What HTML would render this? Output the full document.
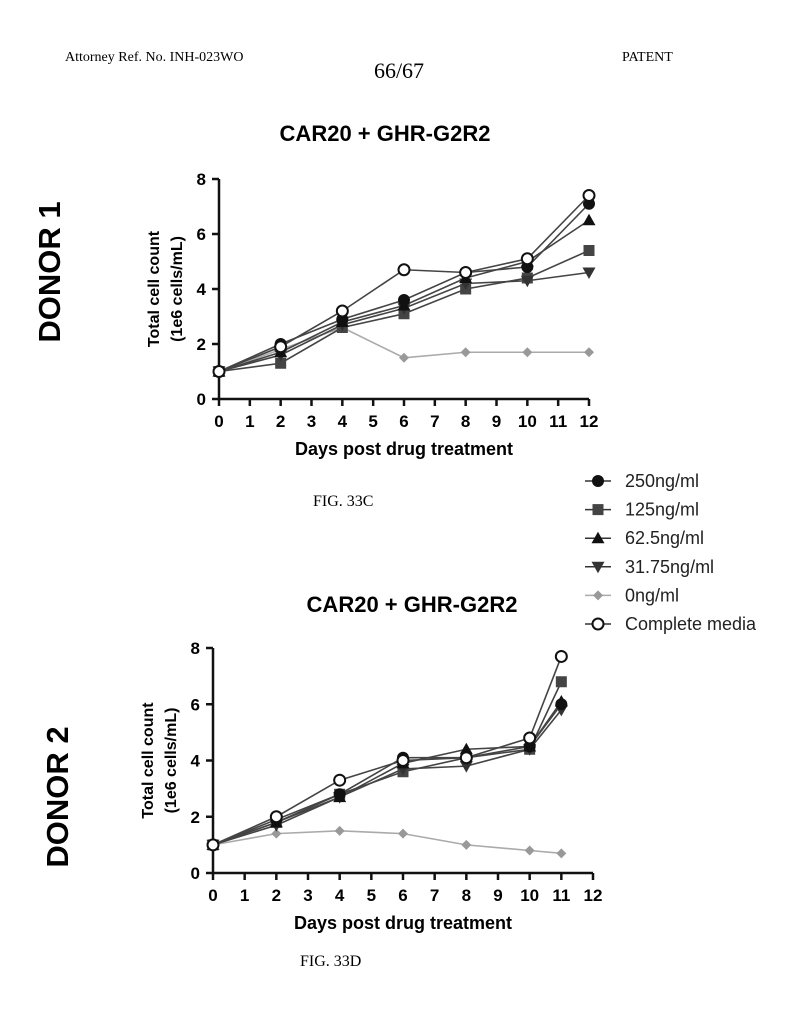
<!DOCTYPE html>
<html><head><meta charset="utf-8"><style>
html,body{margin:0;padding:0;background:#fff;}
svg{display:block;}
.ser{font-family:"Liberation Serif",serif;}
.san{font-family:"Liberation Sans",sans-serif;}
</style></head><body>
<svg id="page" width="790" height="1024" viewBox="0 0 790 1024" xmlns="http://www.w3.org/2000/svg">
<rect width="790" height="1024" fill="#fff"/>
<text class="ser" x="65" y="61" font-size="14">Attorney Ref. No. INH-023WO</text>
<text class="ser" x="399" y="78" font-size="22" text-anchor="middle">66/67</text>
<text class="ser" x="622" y="61" font-size="14">PATENT</text>
<text class="san" x="385" y="141" font-size="22" font-weight="bold" text-anchor="middle">CAR20 + GHR-G2R2</text>
<text class="san" x="412" y="612" font-size="22" font-weight="bold" text-anchor="middle">CAR20 + GHR-G2R2</text>
<text class="san" transform="translate(60,272) rotate(-90)" font-size="31" font-weight="bold" text-anchor="middle">DONOR 1</text>
<text class="san" transform="translate(68,797) rotate(-90)" font-size="31" font-weight="bold" text-anchor="middle">DONOR 2</text>
<text class="ser" x="313" y="506" font-size="16">FIG. 33C</text>
<text class="ser" x="300" y="966" font-size="16">FIG. 33D</text>
<g id="c1"></g>
<g id="c2"></g>
<g id="legend"></g>
</svg>
<script>
const seriesNames = ["250ng/ml","125ng/ml","62.5ng/ml","31.75ng/ml","0ng/ml","Complete media"];
const d1Days = [0,2,4,6,8,10,12];
const d1_250 = [1,2.0,2.9,3.6,4.6,4.8,7.1];
const d1_125 = [1,1.3,2.6,3.1,4.0,4.4,5.4];
const d1_62 = [1,1.7,2.8,3.4,4.4,5.0,6.5];
const d1_31 = [1,1.6,2.7,3.3,4.2,4.3,4.6];
const d1_0 = [1,1.8,2.6,1.5,1.7,1.7,1.7];
const d1_cm = [1,1.9,3.2,4.7,4.6,5.1,7.4];
const d2Days = [0,2,4,6,8,10,11];
const d2_250 = [1,1.9,2.8,4.1,4.1,4.5,6.0];
const d2_125 = [1,1.8,2.8,3.6,4.1,4.4,6.8];
const d2_62 = [1,1.8,2.7,3.9,4.4,4.5,6.1];
const d2_31 = [1,1.7,2.7,3.7,3.8,4.4,5.8];
const d2_0 = [1,1.4,1.5,1.4,1.0,0.8,0.7];
const d2_cm = [1,2.0,3.3,4.0,4.1,4.8,7.7];
const xTicks = [0,1,2,3,4,5,6,7,8,9,10,11,12];
const yTicks = [0,2,4,6,8];
const NS="http://www.w3.org/2000/svg";
const styles=[{m:"circle",c:"#111"},{m:"square",c:"#444"},{m:"tri",c:"#111"},{m:"tridown",c:"#333"},{m:"diamond",c:"#999"},{m:"open",c:"#111"}];
function mk(tag,attrs,parent){const e=document.createElementNS(NS,tag);for(const k in attrs)e.setAttribute(k,attrs[k]);parent.appendChild(e);return e;}
function marker(g,type,x,y,c){
  let e;
  if(type==="circle") e=mk("circle",{cx:x,cy:y,r:6,fill:c},g);
  else if(type==="open") e=mk("circle",{cx:x,cy:y,r:5.5,fill:"#fff",stroke:c,"stroke-width":2},g);
  else if(type==="square") e=mk("rect",{x:x-5.5,y:y-5.5,width:11,height:11,fill:c},g);
  else if(type==="tri") e=mk("polygon",{points:`${x},${y-6.5} ${x-6.5},${y+5} ${x+6.5},${y+5}`,fill:c},g);
  else if(type==="tridown") e=mk("polygon",{points:`${x},${y+6.5} ${x-6.5},${y-5} ${x+6.5},${y-5}`,fill:c},g);
  else e=mk("polygon",{points:`${x},${y-5} ${x+5},${y} ${x},${y+5} ${x-5},${y}`,fill:c},g);
  return e;
}
function chart(id,x0,x1,y0,y1,days,data){
  const g=document.getElementById(id);
  const sx=v=>x0+(x1-x0)*v/12, sy=v=>y0-(y0-y1)*v/8;
  const ax=mk("path",{d:`M${x0},${y1} V${y0} H${x1}`,stroke:"#111","stroke-width":2.5,fill:"none"},g);
  
  
  xTicks.forEach(t=>{
    mk("line",{x1:sx(t),x2:sx(t),y1:y0,y2:y0+7,stroke:"#111","stroke-width":2.5},g);
    const tx=mk("text",{x:sx(t),y:y0+28,"font-size":17,"font-weight":"bold","text-anchor":"middle","font-family":"Liberation Sans, sans-serif"},g);
    tx.textContent=t;
    
    
  });
  yTicks.forEach(t=>{
    mk("line",{x1:x0-7,x2:x0,y1:sy(t),y2:sy(t),stroke:"#111","stroke-width":2.5},g);
    const tx=mk("text",{x:x0-13,y:sy(t)+6,"font-size":17,"font-weight":"bold","text-anchor":"end","font-family":"Liberation Sans, sans-serif"},g);
    tx.textContent=t;
    
    
  });
  const xl=mk("text",{x:(x0+x1)/2,y:y0+56,"font-size":18,"font-weight":"bold","text-anchor":"middle","font-family":"Liberation Sans, sans-serif"},g);
  xl.textContent="Days post drug treatment";
  
  
  const yl=mk("text",{transform:`translate(${x0-60},${(y0+y1)/2}) rotate(-90)`,"font-size":16,"font-weight":"bold","text-anchor":"middle","font-family":"Liberation Sans, sans-serif"},g);
  yl.textContent="Total cell count";
  
  
  const yl2=mk("text",{transform:`translate(${x0-37},${(y0+y1)/2}) rotate(-90)`,"font-size":16,"font-weight":"bold","text-anchor":"middle","font-family":"Liberation Sans, sans-serif"},g);
  yl2.textContent="(1e6 cells/mL)";
  
  
  const order=[4,1,3,2,0,5];
  order.forEach(i=>{
    const vals=data[i], st=styles[i];
    const sg=mk("g",{},g);
    
    
    const pts=vals.map((v,k)=>sx(days[k])+","+sy(v)).join(" ");
    mk("polyline",{points:pts,fill:"none",stroke:i===4?"#aaa":"#444","stroke-width":1.6},sg);
    vals.forEach((v,k)=>{
      const m=marker(sg,st.m,sx(days[k]),sy(v),st.c);
      
      
    });
  });
}
chart("c1",219,589,399,179,d1Days,[d1_250,d1_125,d1_62,d1_31,d1_0,d1_cm]);
chart("c2",213,593,873,648,d2Days,[d2_250,d2_125,d2_62,d2_31,d2_0,d2_cm]);
const lg=document.getElementById("legend");
seriesNames.forEach((n,i)=>{
  const y=481+i*28.6, st=styles[i];
  const row=mk("g",{},lg);
  
  
  mk("line",{x1:585,x2:611,y1:y,y2:y,stroke:i===4?"#aaa":"#333","stroke-width":1.5},row);
  marker(row,st.m,598,y,st.c);
  const t=mk("text",{x:625,y:y+6,"font-size":18,"font-family":"Liberation Sans, sans-serif",fill:"#222"},row);
  t.textContent=n;
});
</script>
</body></html>
